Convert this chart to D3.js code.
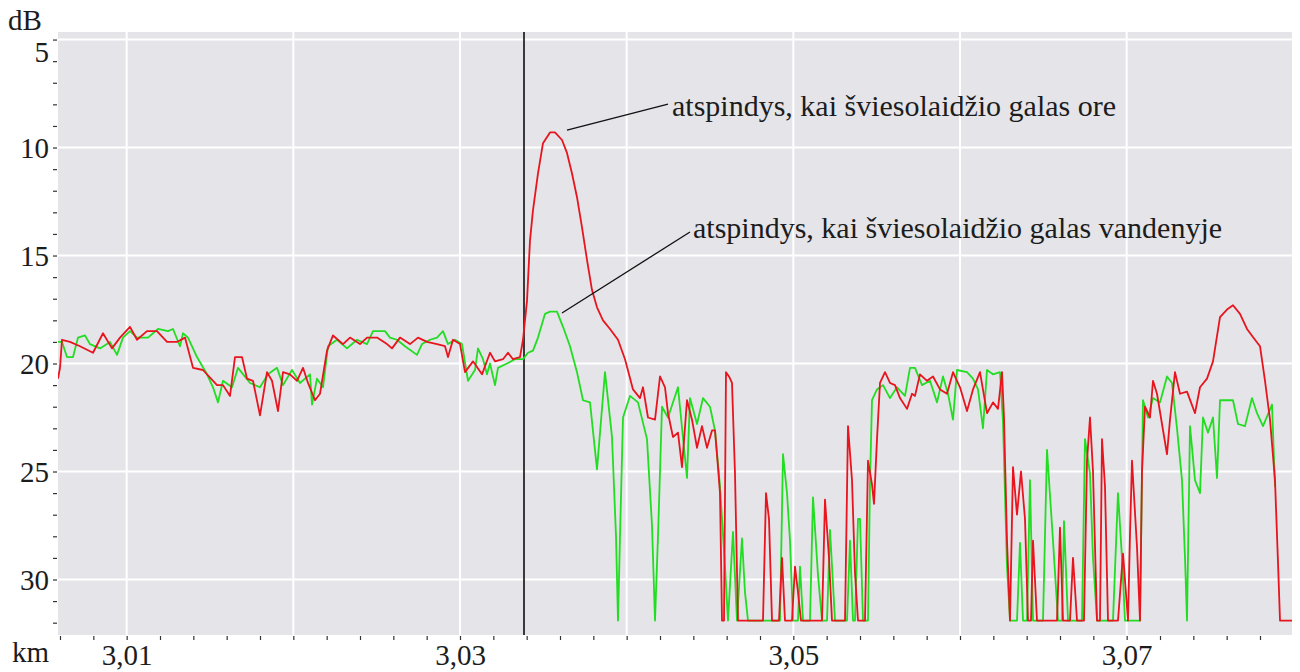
<!DOCTYPE html>
<html><head><meta charset="utf-8">
<script src="https://cdn.jsdelivr.net/npm/d3@7"></script>
<style>
body{margin:0;background:#fff;}
</style></head><body>
<svg id="c" width="1300" height="672"></svg>
<script>
// ---- data (distance km, loss dB) ----
const airEnd = [ // red: fibre end in air
[3.00588,20.7],[3.00600,20.2],[3.00612,18.9],[3.00660,19.0],[3.00720,19.2],[3.00798,19.5],[3.00858,18.6],[3.00912,19.3],[3.00960,18.8],
[3.01020,18.3],[3.01062,18.9],[3.01122,18.5],[3.01182,18.5],[3.01242,19.0],[3.01302,19.0],[3.01350,18.8],[3.01398,20.2],[3.01458,20.3],
[3.01542,21.0],[3.01578,21.0],[3.01620,21.5],[3.01650,19.7],[3.01692,19.7],[3.01722,20.7],[3.01758,20.8],[3.01800,22.4],[3.01842,20.4],
[3.01872,20.8],[3.01908,22.2],[3.01938,20.4],[3.01980,20.5],[3.02022,20.8],[3.02058,20.2],[3.02088,20.9],[3.02130,21.7],[3.02160,21.4],
[3.02202,19.4],[3.02238,18.7],[3.02298,19.1],[3.02340,18.8],[3.02400,19.1],[3.02442,18.8],[3.02502,18.8],[3.02562,19.1],[3.02592,19.3],
[3.02640,18.8],[3.02700,19.1],[3.02748,18.8],[3.02802,19.0],[3.02862,19.1],[3.02910,19.2],[3.02928,19.7],[3.02958,18.9],[3.03000,19.1],
[3.03030,20.4],[3.03078,19.9],[3.03132,20.5],[3.03180,19.5],[3.03210,19.9],[3.03258,19.8],[3.03288,19.5],[3.03318,19.8],[3.03360,19.7],
[3.03378,18.9],[3.03402,17.1],[3.03420,14.3],[3.03438,12.9],[3.03468,11.2],[3.03498,9.8],[3.03540,9.3],[3.03570,9.3],[3.03612,9.65],
[3.03642,10.25],[3.03672,11.2],[3.03702,12.3],[3.03732,13.7],[3.03762,15.2],[3.03792,16.6],[3.03822,17.4],[3.03858,18.0],[3.03900,18.4],
[3.03948,18.9],[3.03990,19.8],[3.04038,21.2],[3.04080,21.6],[3.04098,21.1],[3.04128,22.5],[3.04170,22.6],[3.04200,20.6],[3.04230,21.1],
[3.04248,22.3],[3.04278,23.4],[3.04308,23.2],[3.04332,24.8],[3.04362,21.7],[3.04392,22.6],[3.04422,23.9],[3.04452,22.9],[3.04482,23.9],
[3.04512,23.1],[3.04530,23.1],[3.04548,24.8],[3.04560,26.0],[3.04572,31.9],[3.04584,31.9],[3.04596,20.4],[3.04614,20.6],[3.04632,20.9],
[3.04650,25.1],[3.04668,31.9],[3.04818,31.9],[3.04836,26.0],[3.04854,27.2],[3.04872,31.9],[3.04914,31.9],[3.04932,29.0],[3.04950,31.9],
[3.04992,31.9],[3.05010,29.4],[3.05028,30.6],[3.05046,31.9],[3.05172,31.9],[3.05190,26.3],[3.05214,29.0],[3.05232,31.9],[3.05310,31.9],
[3.05328,22.9],[3.05352,25.4],[3.05370,29.7],[3.05388,31.9],[3.05430,31.9],[3.05448,24.5],[3.05472,25.6],[3.05484,26.5],[3.05502,23.5],
[3.05520,20.9],[3.05550,20.4],[3.05580,20.9],[3.05610,21.0],[3.05640,21.6],[3.05682,22.1],[3.05712,21.4],[3.05730,21.5],[3.05760,20.5],
[3.05802,20.8],[3.05838,20.6],[3.05880,21.2],[3.05922,21.4],[3.05958,20.4],[3.06000,21.1],[3.06042,22.2],[3.06078,21.2],[3.06120,20.4],
[3.06162,22.3],[3.06198,21.8],[3.06228,22.1],[3.06252,20.4],[3.06264,22.5],[3.06282,28.2],[3.06300,31.9],[3.06318,24.8],[3.06342,27.0],
[3.06366,25.0],[3.06390,27.2],[3.06408,31.9],[3.06426,31.9],[3.06438,28.2],[3.06462,31.9],[3.06582,31.9],[3.06600,27.6],[3.06618,31.9],
[3.06660,31.9],[3.06678,29.0],[3.06702,31.9],[3.06744,31.9],[3.06762,24.5],[3.06780,22.5],[3.06798,25.0],[3.06822,31.9],[3.06840,31.9],
[3.06852,23.5],[3.06870,25.7],[3.06888,31.9],[3.06948,31.9],[3.06978,28.8],[3.07008,31.9],[3.07020,27.9],[3.07032,24.5],[3.07062,28.5],
[3.07080,31.9],[3.07092,25.0],[3.07110,22.0],[3.07140,22.5],[3.07158,20.8],[3.07182,21.4],[3.07212,22.8],[3.07242,24.2],[3.07260,22.6],
[3.07290,20.4],[3.07320,21.4],[3.07362,21.3],[3.07410,22.3],[3.07440,21.1],[3.07482,20.7],[3.07518,19.9],[3.07560,17.85],[3.07602,17.5],
[3.07638,17.3],[3.07680,17.7],[3.07722,18.4],[3.07770,18.9],[3.07800,19.2],[3.07830,20.8],[3.07860,22.6],[3.07890,25.4],[3.07908,29.2],
[3.07920,31.9],[3.07992,31.9]
];
const waterEnd = [ // green: fibre end in water
[3.00588,19.0],[3.00612,19.0],[3.00642,19.7],[3.00678,19.7],[3.00708,18.8],[3.00750,18.7],[3.00780,19.1],[3.00840,19.3],[3.00900,19.0],
[3.00942,19.6],[3.00978,18.8],[3.01020,18.5],[3.01062,18.8],[3.01128,18.8],[3.01188,18.4],[3.01248,18.5],[3.01278,18.4],[3.01320,19.2],
[3.01338,18.6],[3.01368,18.8],[3.01422,19.7],[3.01482,20.5],[3.01518,21.1],[3.01548,21.8],[3.01578,20.8],[3.01632,21.1],[3.01668,20.2],
[3.01740,20.9],[3.01800,21.1],[3.01848,20.5],[3.01902,20.2],[3.01938,21.0],[3.01992,20.3],[3.02040,20.9],[3.02100,20.5],[3.02112,21.9],
[3.02142,20.7],[3.02178,21.1],[3.02208,19.2],[3.02262,18.9],[3.02322,19.3],[3.02382,18.9],[3.02442,19.1],[3.02478,18.5],[3.02550,18.5],
[3.02580,18.8],[3.02622,18.9],[3.02670,19.2],[3.02742,19.6],[3.02772,19.1],[3.02820,18.9],[3.02862,18.8],[3.02898,18.5],[3.02928,19.1],
[3.02970,18.9],[3.03012,19.1],[3.03048,20.8],[3.03090,20.3],[3.03108,19.3],[3.03138,19.8],[3.03162,20.5],[3.03180,20.0],[3.03210,21.0],
[3.03228,20.2],[3.03282,20.0],[3.03330,19.8],[3.03378,19.8],[3.03408,19.5],[3.03438,19.4],[3.03468,18.8],[3.03510,17.7],[3.03540,17.6],
[3.03582,17.6],[3.03618,18.3],[3.03660,19.2],[3.03702,20.4],[3.03738,21.7],[3.03780,21.8],[3.03822,24.9],[3.03870,20.4],[3.03912,23.4],
[3.03936,28.0],[3.03948,31.9],[3.03960,28.0],[3.03978,22.5],[3.04020,21.5],[3.04068,21.8],[3.04122,23.5],[3.04152,27.5],[3.04170,31.9],
[3.04188,28.0],[3.04212,22.0],[3.04248,22.5],[3.04308,21.1],[3.04362,25.3],[3.04380,21.6],[3.04422,22.8],[3.04458,21.6],[3.04500,22.0],
[3.04530,23.1],[3.04560,25.7],[3.04590,29.4],[3.04608,31.9],[3.04638,27.8],[3.04662,31.9],[3.04692,28.1],[3.04710,30.6],[3.04728,31.9],
[3.04920,31.9],[3.04938,24.2],[3.04962,26.0],[3.04980,28.2],[3.04998,31.9],[3.05028,31.9],[3.05040,29.4],[3.05058,31.9],[3.05100,31.9],
[3.05118,26.2],[3.05148,29.8],[3.05172,31.9],[3.05202,31.9],[3.05220,27.7],[3.05250,31.9],[3.05322,31.9],[3.05340,28.2],[3.05358,31.9],
[3.05370,31.9],[3.05388,27.2],[3.05400,27.2],[3.05418,31.9],[3.05448,31.9],[3.05460,25.5],[3.05472,21.7],[3.05502,21.2],[3.05538,21.0],
[3.05580,21.6],[3.05622,21.1],[3.05670,21.5],[3.05700,20.2],[3.05730,20.2],[3.05772,21.0],[3.05820,20.8],[3.05862,21.8],[3.05898,20.6],
[3.05928,21.4],[3.05958,22.6],[3.05982,20.3],[3.06042,20.4],[3.06078,20.7],[3.06108,21.2],[3.06138,23.0],[3.06162,20.3],[3.06198,20.5],
[3.06240,20.4],[3.06258,22.7],[3.06282,29.4],[3.06300,31.9],[3.06342,31.9],[3.06360,28.3],[3.06378,31.9],[3.06402,31.9],[3.06420,25.4],
[3.06438,31.9],[3.06498,31.9],[3.06522,24.0],[3.06558,28.2],[3.06588,31.9],[3.06612,31.9],[3.06624,27.3],[3.06648,31.9],[3.06732,31.9],
[3.06750,23.5],[3.06780,25.1],[3.06798,29.0],[3.06822,31.9],[3.06918,31.9],[3.06948,26.0],[3.06972,29.0],[3.06990,31.9],[3.07080,31.9],
[3.07098,21.7],[3.07128,22.5],[3.07158,21.6],[3.07200,21.8],[3.07242,20.6],[3.07272,20.9],[3.07302,23.0],[3.07332,25.4],[3.07350,29.0],
[3.07362,31.9],[3.07380,22.9],[3.07410,25.4],[3.07440,26.0],[3.07458,22.5],[3.07488,23.2],[3.07518,22.5],[3.07542,25.3],[3.07560,21.7],
[3.07638,21.7],[3.07668,22.8],[3.07710,22.9],[3.07752,21.6],[3.07782,22.3],[3.07818,22.9],[3.07872,21.9],[3.07890,25.7]
];
const markerKm = [3.03384];
const yLabelTicks = [5, 10, 15, 20, 25, 30];
const xLabelTicks = [3.01, 3.03, 3.05, 3.07];
const xGridTicks = [3.01, 3.02, 3.03, 3.04, 3.05, 3.06, 3.07];
const annotations = [
  {text: "atspindys, kai šviesolaidžio galas ore", from: [3.03642, 9.19], to: [3.04248, 7.99], at: [3.04272, 8.54]},
  {text: "atspindys, kai šviesolaidžio galas vandenyje", from: [3.03612, 17.66], to: [3.04380, 13.91], at: [3.04398, 14.19]}
];

// ---- layout ----
const FONT = "'Liberation Serif', 'Times New Roman', Times, serif";
const L = 58, R = 1292, T = 32, B = 635;
const svg = d3.select("#c");
const x = d3.scaleLinear().domain([3.00588, 3.07992]).range([L, R]);
const y = d3.scaleLinear().domain([4.65, 32.57]).range([T, B]);

svg.append("rect").attr("x", L).attr("y", T).attr("width", R - L).attr("height", B - T).attr("fill", "#e4e4e9");
svg.append("defs").append("clipPath").attr("id", "clip")
  .append("rect").attr("x", L).attr("y", T).attr("width", R - L).attr("height", B - T);

// gridlines
const g = svg.append("g").attr("clip-path", "url(#clip)");
g.selectAll(".hg").data(yLabelTicks).join("line")
  .attr("x1", L).attr("x2", R).attr("y1", d => y(d)).attr("y2", d => y(d))
  .attr("stroke", "#fff").attr("stroke-width", 2);
g.selectAll(".vg").data(xGridTicks).join("line")
  .attr("y1", T).attr("y2", B).attr("x1", d => x(d)).attr("x2", d => x(d))
  .attr("stroke", "#fff").attr("stroke-width", 2);

// marker line
g.selectAll(".mk").data(markerKm).join("line")
  .attr("x1", d => x(d)).attr("x2", d => x(d)).attr("y1", T).attr("y2", B)
  .attr("stroke", "#000").attr("stroke-width", 1.5);

// traces
const line = d3.line().x(d => x(d[0])).y(d => y(d[1]));
g.append("path").datum(waterEnd).attr("d", line).attr("fill", "none")
  .attr("stroke", "#22dd22").attr("stroke-width", 1.8).attr("stroke-linejoin", "round");
g.append("path").datum(airEnd).attr("d", line).attr("fill", "none")
  .attr("stroke", "#e8141e").attr("stroke-width", 1.8).attr("stroke-linejoin", "round");

// y axis
const yMinor = d3.range(5, 33, 1);
const ya = svg.append("g").attr("transform", `translate(${L - 1},0)`)
  .call(d3.axisLeft(y).tickValues(yMinor).tickSize(4).tickPadding(4)
    .tickFormat(d => yLabelTicks.includes(d) ? String(d) : ""));
ya.attr("font-family", null).attr("font-size", null);
ya.select(".domain").remove();
ya.selectAll(".tick line").attr("stroke", "#333").attr("stroke-width", 1.2);
ya.selectAll(".tick text").style("font-family", FONT).style("font-size", "29px").attr("fill", "#1c1c1c")
  .attr("dy", d => d === 5 ? "0.75em" : "0.34em");

// x axis
const xMinor = d3.range(3.006, 3.0795, 0.002);
const xa = svg.append("g").attr("transform", `translate(0,${B + 1})`)
  .call(d3.axisBottom(x).tickValues(xMinor).tickSize(4).tickPadding(4)
    .tickFormat(d => {
      const m = xLabelTicks.find(v => Math.abs(v - d) < 1e-6);
      return m !== undefined ? d3.format(".2f")(m).replace(".", ",") : "";
    }));
xa.attr("font-family", null).attr("font-size", null);
xa.select(".domain").remove();
xa.selectAll(".tick line").attr("stroke", "#333").attr("stroke-width", 1.2);
xa.selectAll(".tick text").style("font-family", FONT).style("font-size", "29px").attr("fill", "#1c1c1c");

// unit labels
svg.append("text").attr("x", 8).attr("y", 30).style("font-family", FONT).style("font-size", "29px").attr("fill", "#1c1c1c").text("dB");
svg.append("text").attr("x", 12).attr("y", 662).style("font-family", FONT).style("font-size", "29px").attr("fill", "#1c1c1c").text("km");

// annotations
const an = svg.append("g");
an.selectAll("line").data(annotations).join("line")
  .attr("x1", d => x(d.from[0])).attr("y1", d => y(d.from[1]))
  .attr("x2", d => x(d.to[0])).attr("y2", d => y(d.to[1]))
  .attr("stroke", "#111").attr("stroke-width", 1.3);
an.selectAll("text").data(annotations).join("text")
  .attr("x", d => x(d.at[0])).attr("y", d => y(d.at[1]))
  .style("font-family", FONT).style("font-size", "30px").attr("fill", "#1c1c1c").text(d => d.text);
</script>
</body></html>
